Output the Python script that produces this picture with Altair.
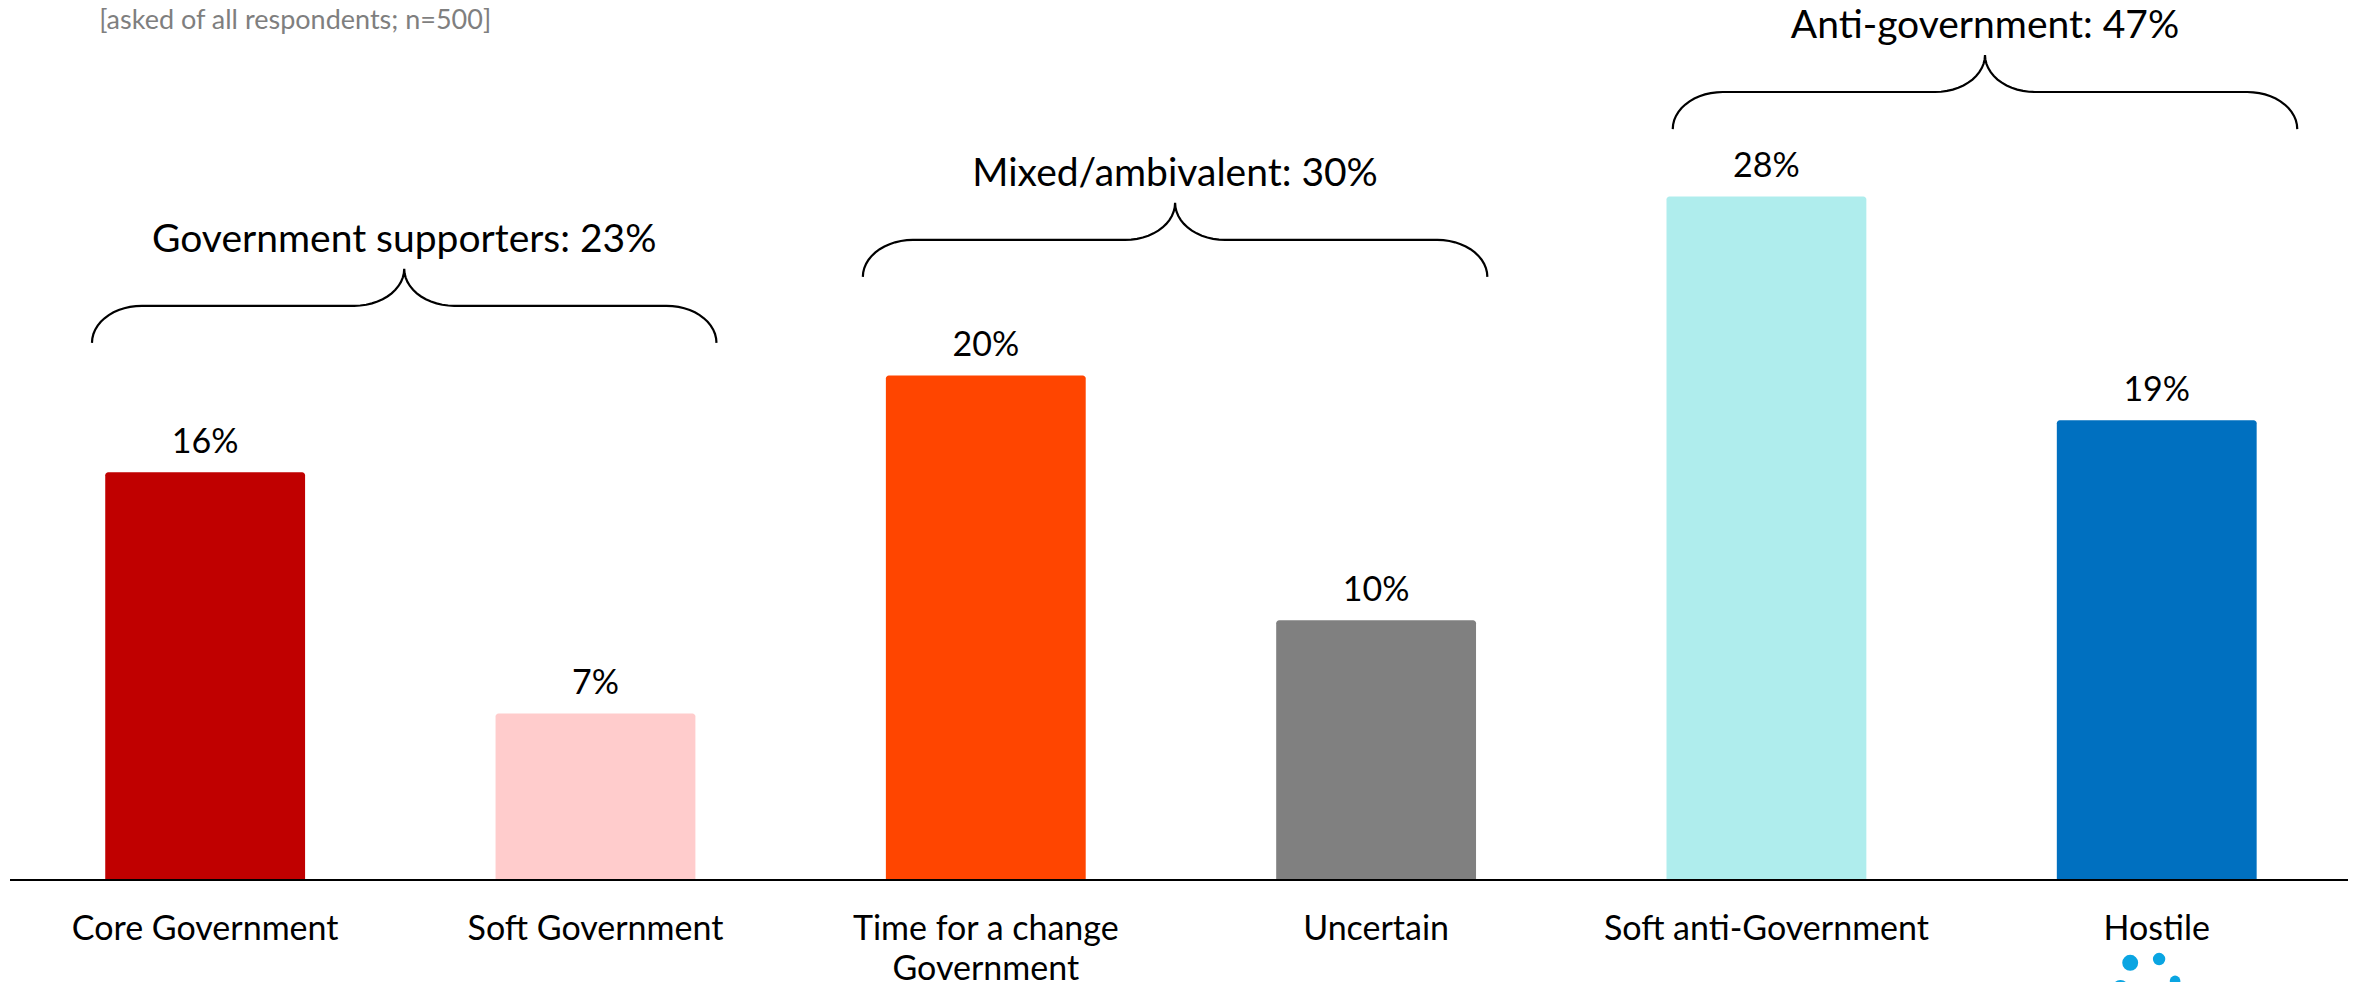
import altair as alt
import pandas as pd
import numpy as np

# ---- data ----
categories = ["Core Government", "Soft Government", "Time for a change\nGovernment",
              "Uncertain", "Soft anti-Government", "Hostile"]
values = [16.4, 6.7, 20.3, 10.45, 27.5, 18.5]          # bar heights as drawn
value_labels_text = ["16%", "7%", "20%", "10%", "28%", "19%"]
bar_colors = ["#C00000", "#FFCCCC", "#FF4500", "#808080", "#AFEDED", "#0070C0"]

group_labels = ["Government supporters: 23%", "Mixed/ambivalent: 30%", "Anti-government: 47%"]
group_brace_center = [0.51, 2.485, 4.56]
group_brace_level = [23.1, 25.75, 31.7]

subtitle = "[asked of all respondents; n=500]"

logo_x = [4.932, 5.006, 5.047, 4.907]
logo_y = [-3.33, -3.18, -4.06, -4.34]
logo_size = [254, 154, 113, 254]

FONT = "Lato"
BAR_HALF = 0.256
BRACE_HALF = 0.80
BRACE_H = 1.49
BRACE_CW = 0.128

idx = list(range(len(categories)))
bars = pd.DataFrame({
    "idx": idx,
    "x0": [i - BAR_HALF for i in idx],
    "x1": [i + BAR_HALF for i in idx],
    "value": values,
    "label": value_labels_text,
    "cat": categories,
    "color": bar_colors,
})

# brace outlines built from the group extents
rows = []
n = 14
for g, (c, F) in enumerate(zip(group_brace_center, group_brace_level)):
    L, R, T = c - BRACE_HALF, c + BRACE_HALF, c
    pts = []
    for t in np.linspace(np.pi, np.pi / 2, n):
        pts.append((L + BRACE_CW + BRACE_CW * np.cos(t), F - BRACE_H + BRACE_H * np.sin(t)))
    for t in np.linspace(-np.pi / 2, 0, n):
        pts.append((T - BRACE_CW + BRACE_CW * np.cos(t), F + BRACE_H + BRACE_H * np.sin(t)))
    for t in np.linspace(np.pi, 1.5 * np.pi, n):
        pts.append((T + BRACE_CW + BRACE_CW * np.cos(t), F + BRACE_H + BRACE_H * np.sin(t)))
    for t in np.linspace(np.pi / 2, 0, n):
        pts.append((R - BRACE_CW + BRACE_CW * np.cos(t), F - BRACE_H + BRACE_H * np.sin(t)))
    for k, (px, py) in enumerate(pts):
        rows.append({"g": g, "o": k, "bx": px, "by": py})
braces = pd.DataFrame(rows)

groups = pd.DataFrame({
    "gx": group_brace_center,
    "gy": [f + BRACE_H + 0.68 for f in group_brace_level],
    "text": group_labels,
})

logo = pd.DataFrame({"lx": logo_x, "ly": logo_y, "ls": logo_size})

xs = alt.Scale(domain=[-0.5, 5.49], nice=False, zero=False)
ys = alt.Scale(domain=[0, 35.08], nice=False, zero=False)

base = alt.Chart(bars)

bar_layer = base.mark_bar(cornerRadiusTopLeft=3, cornerRadiusTopRight=3).encode(
    x=alt.X("x0:Q", scale=xs, axis=None),
    x2="x1:Q",
    y=alt.Y("value:Q", scale=ys, axis=None),
    y2=alt.datum(0),
    color=alt.Color("color:N", scale=None, legend=None),
)

value_labels = base.mark_text(font=FONT, fontSize=34, baseline="alphabetic", dy=-19, color="black").encode(
    x=alt.X("idx:Q", scale=xs),
    y=alt.Y("value:Q", scale=ys),
    text="label:N",
)

cat_labels = base.mark_text(font=FONT, fontSize=34, baseline="alphabetic", lineBreak="\n",
                            lineHeight=40, color="black").encode(
    x=alt.X("idx:Q", scale=xs),
    y=alt.value(932),
    text="cat:N",
)

axis_line = alt.Chart(pd.DataFrame({"a": [-0.5], "b": [5.6]})).mark_rule(color="black", strokeWidth=2).encode(
    x=alt.X("a:Q", scale=xs),
    x2="b:Q",
    y=alt.value(872),
)

brace_layer = alt.Chart(braces).mark_line(color="black", strokeWidth=2.2).encode(
    x=alt.X("bx:Q", scale=xs),
    y=alt.Y("by:Q", scale=ys),
    detail="g:N",
    order="o:Q",
)

group_text = alt.Chart(groups).mark_text(font=FONT, fontSize=39, baseline="alphabetic", color="black").encode(
    x=alt.X("gx:Q", scale=xs),
    y=alt.Y("gy:Q", scale=ys),
    text="text:N",
)

sub_text = alt.Chart(pd.DataFrame({"t": [subtitle], "sx": [-0.2716]})).mark_text(
    font=FONT, fontSize=27, baseline="top", align="left", color="#7F7F7F").encode(
    x=alt.X("sx:Q", scale=xs),
    y=alt.value(0),
    text="t:N",
)

logo_layer = alt.Chart(logo).mark_circle(color="#0AA5E2", opacity=1).encode(
    x=alt.X("lx:Q", scale=xs),
    y=alt.Y("ly:Q", scale=ys),
    size=alt.Size("ls:Q", scale=None, legend=None),
)

chart = alt.layer(
    bar_layer, axis_line, value_labels, cat_labels, brace_layer, group_text, sub_text, logo_layer
).properties(
    width=2338, height=872,
    padding={"left": 2, "top": 0, "right": 0, "bottom": 102},
    autosize=alt.AutoSizeParams(type="none"),
    background="white",
).configure_view(stroke=None)

chart.save("out.html", embed_options={"renderer": "svg", "actions": False})
